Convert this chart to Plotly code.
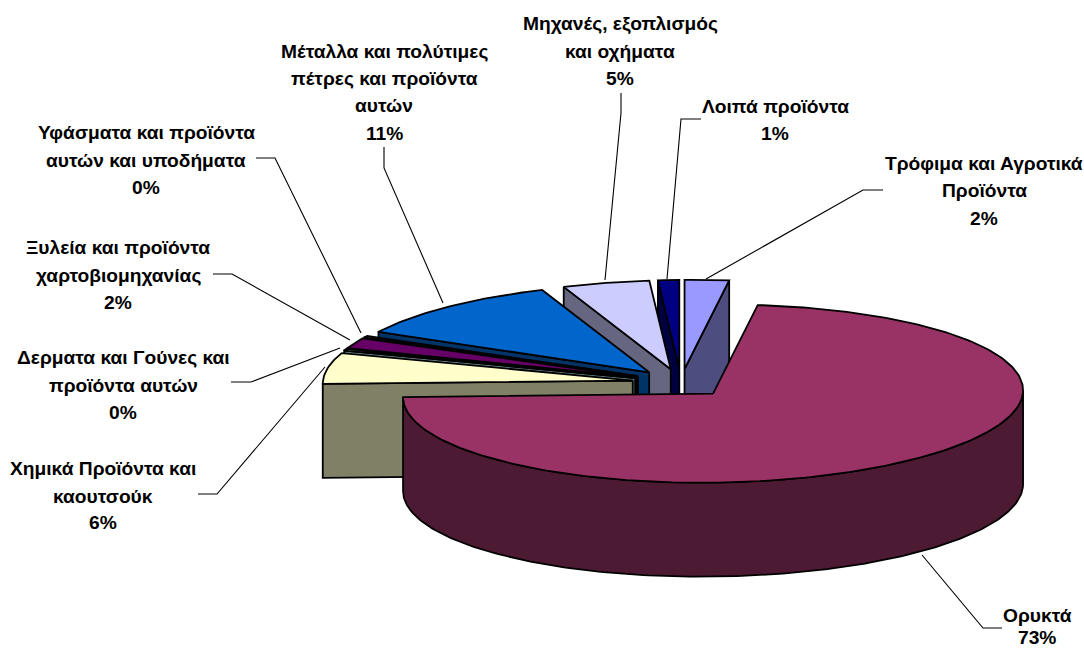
import math
import numpy as np
import plotly.graph_objects as go

# ---- data (clockwise from 12 o'clock) ----
categories = ["Τρόφιμα και Αγροτικά Προϊόντα", "Ορυκτά", "Χημικά Προϊόντα και καουτσούκ",
              "Δερματα και Γούνες και προϊόντα αυτών", "Ξυλεία και προϊόντα χαρτοβιομηχανίας",
              "Υφάσματα και προϊόντα αυτών και υποδήματα", "Μέταλλα και πολύτιμες πέτρες και προϊόντα αυτών",
              "Μηχανές, εξοπλισμός και οχήματα", "Λοιπά προϊόντα"]
values = [2.3, 72.7, 5.6, 0.3, 1.9, 0.3, 11.29, 4.51, 1.1]
label_lines = [["Τρόφιμα και Αγροτικά", "Προϊόντα"], ["Ορυκτά"], ["Χημικά Προϊόντα και", "καουτσούκ"],
               ["Δερματα και Γούνες και", "προϊόντα αυτών"], ["Ξυλεία και προϊόντα", "χαρτοβιομηχανίας"],
               ["Υφάσματα και προϊόντα", "αυτών και υποδήματα"], ["Μέταλλα και πολύτιμες", "πέτρες και προϊόντα", "αυτών"],
               ["Μηχανές, εξοπλισμός", "και οχήματα"], ["Λοιπά προϊόντα"]]

# ---- styles and layout ----
top_colors = ["#9999FF", "#993366", "#FFFFCC", "#CCFFFF", "#660066", "#FF8080", "#0066CC", "#CCCCFF", "#000080"]
side_colors = ["#4D4D80", "#4D1A33", "#808066", "#668080", "#330033", "#804040", "#003366", "#666680", "#000040"]
CX, CY, RX, RY, DEPTH, PULL, TILT = 681, 383, 310, 89, 94, 49, 0.011
draw_order = [8, 0, 7, 6, 5, 4, 3, 2, 1]
label_x = [984, 1037, 103, 123, 118, 146, 384, 620, 775]
label_y = [[163, 190.5, 218], [615, 637], [468, 496, 522], [357, 385, 412], [247, 275, 302],
           [132, 160, 187], [51, 78, 105, 133], [24, 51, 78], [106, 133]]
leaders = [[(883, 190), (863, 190), (706, 279)], [(1002, 628), (983, 628), (922, 555)],
           [(198, 494), (217, 494), (325, 367)], [(231, 382), (251, 382), (340, 348)],
           [(213, 274), (232, 274), (350, 340)], [(256, 158), (275, 158), (361, 333)],
           [(384, 147), (384, 168), (443, 303)], [(621, 93), (621, 113), (605, 280)],
           [(701, 119), (681, 119), (667, 279)]]

fig = go.Figure()


def poly(xs, ys, fill):
    fig.add_trace(go.Scatter(x=list(xs) + [xs[0]], y=list(ys) + [ys[0]], mode="lines", fill="toself",
                             fillcolor=fill, line=dict(color="#000000", width=1.8),
                             showlegend=False, hoverinfo="skip"))


total = sum(values)
edges = np.concatenate([[0], np.cumsum(values)]) / total * 2 * math.pi


def rim(ax, ay, t):
    return ax + RX * np.sin(t), ay - RY * np.cos(t) - TILT * RX * np.sin(t)


def arc(ax, ay, a, b):
    return rim(ax, ay, np.linspace(a, b, max(int(abs(b - a) * 60), 2)))


for i in draw_order:
    a, b = edges[i], edges[i + 1]
    mid = (a + b) / 2
    ax = CX + PULL * math.sin(mid)
    ay = CY - PULL * (RY / RX) * math.cos(mid)

    def wall(t):
        ox, oy = rim(ax, ay, t)
        poly([ax, ox, ox, ax], [ay, oy, oy + DEPTH, ay + DEPTH], side_colors[i])

    if math.sin(a) < -1e-6:
        wall(a)
    if math.sin(b) > 1e-6:
        wall(b)
    lo, hi = max(a, math.pi / 2), min(b, 3 * math.pi / 2)
    if hi > lo:
        x, y = arc(ax, ay, lo, hi)
        poly(np.concatenate([x, x[::-1]]), np.concatenate([y, y[::-1] + DEPTH]), side_colors[i])
    x, y = arc(ax, ay, a, b)
    poly(np.concatenate([[ax], x]), np.concatenate([[ay], y]), top_colors[i])

annotations = []
for i, pts in enumerate(leaders):
    fig.add_trace(go.Scatter(x=[p[0] for p in pts], y=[p[1] for p in pts], mode="lines",
                             line=dict(color="#000000", width=1.1), showlegend=False, hoverinfo="skip"))
    lines = label_lines[i] + [f"{round(values[i] / total * 100)}%"]
    for text, ly in zip(lines, label_y[i]):
        annotations.append(dict(x=label_x[i], y=ly, xref="x", yref="y", text=f"<b>{text}</b>", showarrow=False,
                                xanchor="center", yanchor="middle",
                                font=dict(family="Liberation Sans", size=19.2, weight=700, color="#000000")))

fig.update_layout(width=1084, height=649, margin=dict(l=0, r=0, t=0, b=0), paper_bgcolor="#FFFFFF",
                  plot_bgcolor="#FFFFFF", showlegend=False, annotations=annotations,
                  xaxis=dict(range=[0, 1084], visible=False, fixedrange=True),
                  yaxis=dict(range=[649, 0], visible=False, fixedrange=True))
fig.write_html("out.html", config={"displayModeBar": False},
               post_script="document.body.style.margin='0';document.documentElement.style.overflow='hidden';")
